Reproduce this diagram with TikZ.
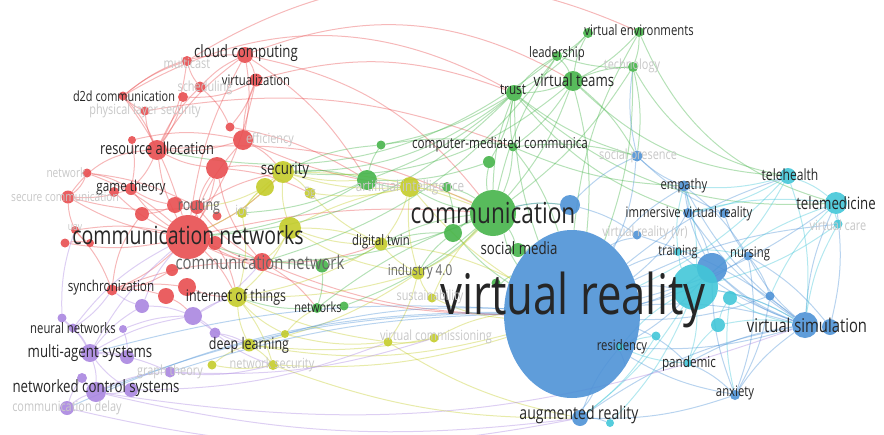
\documentclass[tikz,border=0pt]{standalone}
\usepackage{fontspec}
\setmainfont[FakeStretch=0.78]{Open Sans}
\usetikzlibrary{calc}
\usetikzlibrary{backgrounds}
\usetikzlibrary{shapes.geometric}
\definecolor{cred}{RGB}{232,78,80}
\definecolor{cyel}{RGB}{196,204,42}
\definecolor{cgrn}{RGB}{70,180,74}
\definecolor{cblu}{RGB}{78,146,214}
\definecolor{ccyn}{RGB}{66,198,216}
\definecolor{cpur}{RGB}{170,134,224}

\begin{document}
\begin{tikzpicture}[x=1pt, y=-1pt,
    kw/.style={circle, inner sep=0pt, fill opacity=0.9},
    lbl/.style={inner sep=0pt, text=black!85},
    grey/.style={inner sep=0pt, text=black!60},
    faint/.style={inner sep=0pt, text=black!22},
    lnk/.style={line width=1pt, opacity=0.4}]
  \useasboundingbox (0,0) rectangle (884,434);

  % red cluster
  \foreach \n/\x/\y/\d in {cloud/245/55/16, virt/256/80/13, multicast/187/61/10,
      sched/200/87/11, d2d/123/96/9, r1/183/97/10, physsec/145/111/9, r2/230/127/9,
      effic/243/140/20, resalloc/157/150/20, r3/217/168/22, r4/132/140/8,
      gametheory/131/189/12, r5/114/192/10, netwk/87/173/9, securecom/68/197/13,
      routing/197/207/14, r14/175/205/16, uav/75/230/8, comnets/188/237/44,
      r6/65/243/9, r7/90/243/8, r8/142/214/14, r9/215/243/14, comnet/262/262/18,
      r10/172/270/12, sync/112/290/11, r11/166/296/16, r12/187/287/18, r13/217/216/9}
    \node[kw, fill=cred, minimum size=\d] (\n) at (\x,\y) {};

  % yellow cluster
  \foreach \n/\x/\y/\d in {security/283/172/22, y1/265/187/18, iot/242/213/10,
      fiveg/310/193/11, y2/290/228/22, iotthings/237/297/20, ai/410/187/20,
      digitaltwin/381/244/13, industry/418/273/13, sustain/432/298/9,
      vcomm/388/342/9, y3/434/338/9, deeplearn/249/345/13, y4/285/334/8,
      netsec/273/365/10, y5/212/365/9}
    \node[kw, fill=cyel, minimum size=\d] (\n) at (\x,\y) {};

  % green cluster
  \foreach \n/\x/\y/\d in {communication/493/213/46, socialmedia/518/250/14,
      g1/453/233/18, g2/367/180/20, g3/381/145/9, cmc/513/147/9, g4/489/162/12,
      g5/447/187/10, trust/514/93/16, leadership/557/56/10, vteams/573/81/20,
      venv/639/32/10, g6/588/33/10, technology/633/67/10, networks/317/308/10,
      g7/344/306/9, g8/322/266/13, g9/496/283/9}
    \node[kw, fill=cgrn, minimum size=\d] (\n) at (\x,\y) {};

  % blue cluster
  \node[ellipse, inner sep=0pt, fill=cblu, fill opacity=0.9,
    minimum width=136, minimum height=168] (vr) at (572,314) {};
  \foreach \n/\x/\y/\d in {b1/570/205/20, augmented/580/418/16, empathy/684/186/11,
      socpres/637/156/11, immersive/688/213/10, b2/724/213/10, vrvr/637/235/9,
      b3/712/268/30, nursing/748/256/9, vsim/805/325/26, b4/830/327/16,
      anxiety/735/395/10, b5/770/296/9}
    \node[kw, fill=cblu, minimum size=\d] (\n) at (\x,\y) {};

  % cyan cluster
  \foreach \n/\x/\y/\d in {c1/695/287/46, training/678/252/8, telehealth/788/176/16,
      telemedicine/836/203/22, vcare/838/224/9, residency/620/347/8,
      pandemic/688/363/8, c2/730/298/14, c3/718/325/14, c4/656/336/9, c5/610/423/8}
    \node[kw, fill=ccyn, minimum size=\d] (\n) at (\x,\y) {};

  % purple cluster
  \foreach \n/\x/\y/\d in {neural/73/328/9, p1/62/318/9, p2/123/329/8,
      multiagent/90/353/18, p3/127/357/14, graph/170/372/11, netctrl/96/392/20,
      p4/131/390/14, p5/82/378/10, commdelay/67/408/14, p6/142/306/14,
      p7/193/316/18, p8/215/333/11}
    \node[kw, fill=cpur, minimum size=\d] (\n) at (\x,\y) {};

  % links
  \begin{scope}[on background layer]
    \foreach \a/\b/\k in {comnets/cloud/10, comnets/virt/-10, comnets/resalloc/10,
        comnets/routing/-10, comnets/gametheory/10, comnets/d2d/-10,
        comnets/securecom/10, comnets/uav/-10, comnets/sync/10, comnets/r3/-10,
        comnets/effic/10, comnets/security/-10, comnets/iotthings/10,
        comnets/comnet/-10, comnets/r6/10, comnets/netwk/-10, resalloc/cloud/10,
        resalloc/d2d/-10, resalloc/gametheory/10, resalloc/multicast/-10,
        resalloc/sched/10, resalloc/r1/-10, resalloc/physsec/10, resalloc/effic/-10,
        d2d/multicast/10, d2d/physsec/-10, cloud/virt/10, cloud/sched/-10,
        cloud/effic/10, virt/effic/-10, virt/r2/10, multicast/sched/-10,
        routing/securecom/10, routing/netwk/-10, gametheory/securecom/10,
        gametheory/r4/-10, comnet/routing/10, comnet/sync/-10, comnet/r9/10,
        sync/uav/-10, sync/r11/10, r12/iotthings/-10, r3/security/10, r3/routing/-10,
        effic/security/10, securecom/uav/-10, r6/r7/10, r14/gametheory/10,
        cloud/communication/20, resalloc/communication/15, virt/trust/18,
        comnets/communication/8, comnets/vr/-12, comnet/vr/-10, cloud/vteams/25,
        d2d/cloud/20, securecom/resalloc/25, r8/sync/-15, d2d/trust/30,
        multicast/venv/28, physsec/cmc/15, r2/g2/10, effic/ai/-8, r3/fiveg/10,
        r3/comnet/-15, comnet/digitaltwin/-10, comnet/networks/10, r9/iotthings/10,
        r12/sync/-10, r11/p7/10, securecom/netwk/-15, sched/r2/12, r1/virt/-15,
        r14/r8/10, uav/r7/-12, resalloc/r3/-10, r10/sync/12, cloud/g2/12,
        netwk/gametheory/10, r5/comnets/-10, r4/effic/12, routing/security/10}
      \draw[lnk, cred] (\a) to[bend left=\k] (\b);
    \foreach \a/\b/\k in {communication/trust/10, communication/vteams/-10,
        communication/leadership/10, communication/cmc/-10,
        communication/socialmedia/10, communication/g1/-10, communication/g4/10,
        communication/g5/-10, communication/ai/10, communication/digitaltwin/-10,
        communication/b1/10, trust/vteams/-10, trust/leadership/10, trust/cmc/-10,
        trust/g4/10, vteams/venv/-10, vteams/technology/10, vteams/leadership/-10,
        vteams/g6/10, leadership/g6/-10, venv/technology/10,
        technology/telehealth/-25, vteams/socpres/10, trust/socpres/-10,
        cmc/socpres/10, g2/ai/-10, g2/g3/10, g2/security/-10, g3/cmc/10,
        g3/trust/-10, trust/comnets/20, trust/g2/10, leadership/comnet/18,
        g8/networks/10, g8/digitaltwin/-10, networks/g7/10, g7/communication/-10,
        socialmedia/vr/10, venv/telemedicine/-25, technology/vr/10, trust/vr/-10,
        g9/vr/10, g1/industry/-10, vteams/telehealth/-20, trust/telemedicine/-22,
        g2/comnets/12, g5/g1/10, trust/security/18, vteams/security/22,
        leadership/resalloc/25, communication/comnet/10, communication/networks/-8,
        communication/industry/8, communication/vr/-10, g4/g2/10, g1/digitaltwin/-10,
        vteams/vr/10, technology/communication/10, venv/vr/-12, cmc/vr/10,
        cmc/empathy/-10, trust/immersive/-15, g6/trust/10, g8/comnets/8,
        g2/iot/10, g3/security/-10, networks/iotthings/10, g1/vr/-8,
        vteams/cmc/10, leadership/technology/-10, technology/socpres/10}
      \draw[lnk, cgrn] (\a) to[bend left=\k] (\b);
    \foreach \a/\b/\k in {security/fiveg/10, security/iot/-10, security/y1/10,
        security/ai/-10, security/comnets/10, security/y2/-10, y2/iotthings/10,
        iotthings/deeplearn/-10, iotthings/netsec/10, iotthings/y4/-10,
        deeplearn/netsec/10, deeplearn/y5/-10, ai/digitaltwin/10, ai/industry/-10,
        ai/g5/10, digitaltwin/industry/-10, digitaltwin/y2/10, industry/sustain/-10,
        industry/vcomm/10, vcomm/y3/-10, y3/vr/10, sustain/vr/-10,
        digitaltwin/vr/10, industry/communication/-10, ai/communication/10,
        fiveg/ai/-10, y2/digitaltwin/10, deeplearn/vr/-12, netsec/augmented/-10,
        iotthings/vcomm/-8, y1/routing/10, security/communication/10,
        fiveg/digitaltwin/-10, y4/vcomm/-10, iotthings/industry/-8,
        iotthings/digitaltwin/-10, deeplearn/industry/-10, y2/ai/8, y1/iot/-10,
        y2/industry/-12, y5/netsec/-10, y4/networks/10, security/g2/-8,
        y2/comnet/10, ai/vr/-8, vcomm/augmented/-10, sustain/communication/10,
        iot/iotthings/12, deeplearn/y3/-8, netsec/vr/-10}
      \draw[lnk, cyel] (\a) to[bend left=\k] (\b);
    \foreach \a/\b/\k in {vr/augmented/10, vr/residency/-10, vr/pandemic/10,
        vr/anxiety/-10, vr/vsim/10, vr/nursing/-10, vr/training/10,
        vr/immersive/-10, vr/empathy/10, vr/socpres/-10, vr/telehealth/10,
        vr/telemedicine/-10, vr/vcare/10, vr/b3/-10, vr/c1/10, vr/b5/-10,
        vsim/nursing/10, vsim/anxiety/-10, vsim/training/10, vsim/c1/-10,
        vsim/b3/10, vsim/pandemic/-10, vsim/telemedicine/10, immersive/empathy/-10,
        immersive/b2/10, b2/nursing/-10, empathy/socpres/10, b3/anxiety/-10,
        b3/residency/10, augmented/anxiety/-10, augmented/c5/10,
        b1/communication/-10, b1/socpres/10, anxiety/pandemic/-10,
        socpres/technology/10, vr/netctrl/-10, vr/graph/-8, vsim/empathy/12,
        vsim/immersive/10, b4/nursing/-10, vr/multiagent/-9, vr/deeplearn/-10,
        vr/commdelay/-12, b3/empathy/10, b3/immersive/-10, b3/vsim/-12,
        vsim/residency/10, vsim/vrvr/-10, augmented/vsim/12, augmented/residency/10,
        empathy/nursing/10, socpres/b2/-10, b1/vrvr/10, b5/nursing/-10,
        vr/vrvr/10, anxiety/nursing/-15, b4/telemedicine/-10, b5/anxiety/10}
      \draw[lnk, cblu] (\a) to[bend left=\k] (\b);
    \foreach \a/\b/\k in {telehealth/telemedicine/10, telemedicine/vcare/-10,
        telehealth/c1/10, telemedicine/c1/-10, c1/training/10, c1/residency/-10,
        c1/pandemic/10, c2/c3/-10, c3/vsim/10, c4/residency/-10, telehealth/vr/10,
        vcare/vsim/-10, c1/augmented/10, residency/pandemic/-10, training/nursing/10,
        c2/anxiety/-10, telehealth/immersive/10, telemedicine/b5/-10,
        telehealth/empathy/10, telemedicine/immersive/-10, c1/empathy/-10,
        c1/vsim/10, c3/pandemic/-10, c4/augmented/10, c2/vsim/-10,
        telehealth/vsim/12, vcare/c1/10, c5/c1/-10, training/empathy/10}
      \draw[lnk, ccyn] (\a) to[bend left=\k] (\b);
    \foreach \a/\b/\k in {multiagent/netctrl/10, multiagent/neural/-10,
        multiagent/graph/10, multiagent/p1/-10, multiagent/p3/10,
        netctrl/commdelay/-10, netctrl/graph/10, netctrl/p4/-10, netctrl/p5/10,
        neural/sync/-10, neural/p1/10, p6/multiagent/-10, p6/sync/10,
        p7/multiagent/-10, p7/p8/10, p7/deeplearn/-10, p7/iotthings/10,
        p8/netsec/-10, commdelay/augmented/-12, netctrl/augmented/-10,
        multiagent/comnets/10, p3/p2/-10, p6/comnets/10, graph/netsec/-10,
        p4/vcomm/-10, graph/y3/-10, netctrl/vsim/-14, p2/p7/10, p5/commdelay/-10,
        neural/comnets/12, p1/uav/10, p7/comnet/-10, p8/deeplearn/10,
        multiagent/p4/-10, p6/p7/10}
      \draw[lnk, cpur] (\a) to[bend left=\k] (\b);
  \end{scope}

  % dark labels
  \foreach \n/\dx/\dy/\s/\t in {cloud/1/-2/17/cloud computing,
      virt/0/0/14.5/virtualization, d2d/1/0/14/d2d communication,
      resalloc/0/-2/16.5/resource allocation, gametheory/0/-1/15/game theory,
      security/2/-2/17/security, comnets/0/-2/25/communication networks,
      sync/-1/-2/15/synchronization, iotthings/-1/0/16/internet of things,
      neural/0/0/14.5/neural networks, multiagent/0/0/17/multi-agent systems,
      netctrl/0/-4/17/networked control systems, deeplearn/0/0/16/deep learning,
      digitaltwin/0/-2/14.5/digital twin, networks/1/-1/14/networks,
      communication/0/0/29/communication, socialmedia/1/-2/17/social media,
      cmc/-13/-2/15/computer-mediated communica, trust/-1/-3/15/trust,
      leadership/0/-2/14.5/leadership, vteams/1/-1/17/virtual teams,
      venv/0/-2/14.5/virtual environments, vr/1/-14/56/virtual reality,
      immersive/1/1/14.5/immersive virtual reality, empathy/0/0/14.5/empathy,
      telehealth/2/-1/15.5/telehealth, telemedicine/0/0/17/telemedicine,
      training/0/0/14/training, nursing/2/-2/14.5/nursing,
      vsim/2/0/19/virtual simulation, residency/2/0/14.5/residency,
      pandemic/1/1/15/pandemic, anxiety/0/-2/14.5/anxiety,
      augmented/-1/-3/18/augmented reality}
    \node[lbl, font=\fontsize{\s}{\s}\selectfont] (\n-l) at ($(\n)+(\dx,\dy)$) {\t};

  % grey labels
  \foreach \n/\dx/\dy/\s/\t in {routing/2/0/16/routing,
      comnet/-2/0/19/communication network, industry/2/-1/15/industry 4.0}
    \node[grey, font=\fontsize{\s}{\s}\selectfont] (\n-l) at ($(\n)+(\dx,\dy)$) {\t};

  % faint labels
  \foreach \n/\dx/\dy/\s/\t in {multicast/0/2/14/multicast, sched/5/1/14/scheduling,
      physsec/0/0/14/physical layer security, effic/27/0/14/efficiency,
      netwk/-21/0/13/network, securecom/-3/0/13/secure communication,
      uav/0/-2/11/uav, iot/0/-3/14/iot, fiveg/0/0/13/5g,
      ai/0/1/15/artificial intelligence, sustain/-2/-1/14/sustainability,
      vcomm/48/-5/14/virtual commissioning, netsec/-1/0/14/network security,
      graph/0/0/14/graph theory, commdelay/0/0/14/communication delay,
      technology/-1/-1/14/technology, socpres/1/0/14/social presence,
      vrvr/8/-2/14/virtual reality (vr), vcare/0/1/14/virtual care}
    \node[faint, font=\fontsize{\s}{\s}\selectfont] (\n-l) at ($(\n)+(\dx,\dy)$) {\t};
\end{tikzpicture}
\end{document}
